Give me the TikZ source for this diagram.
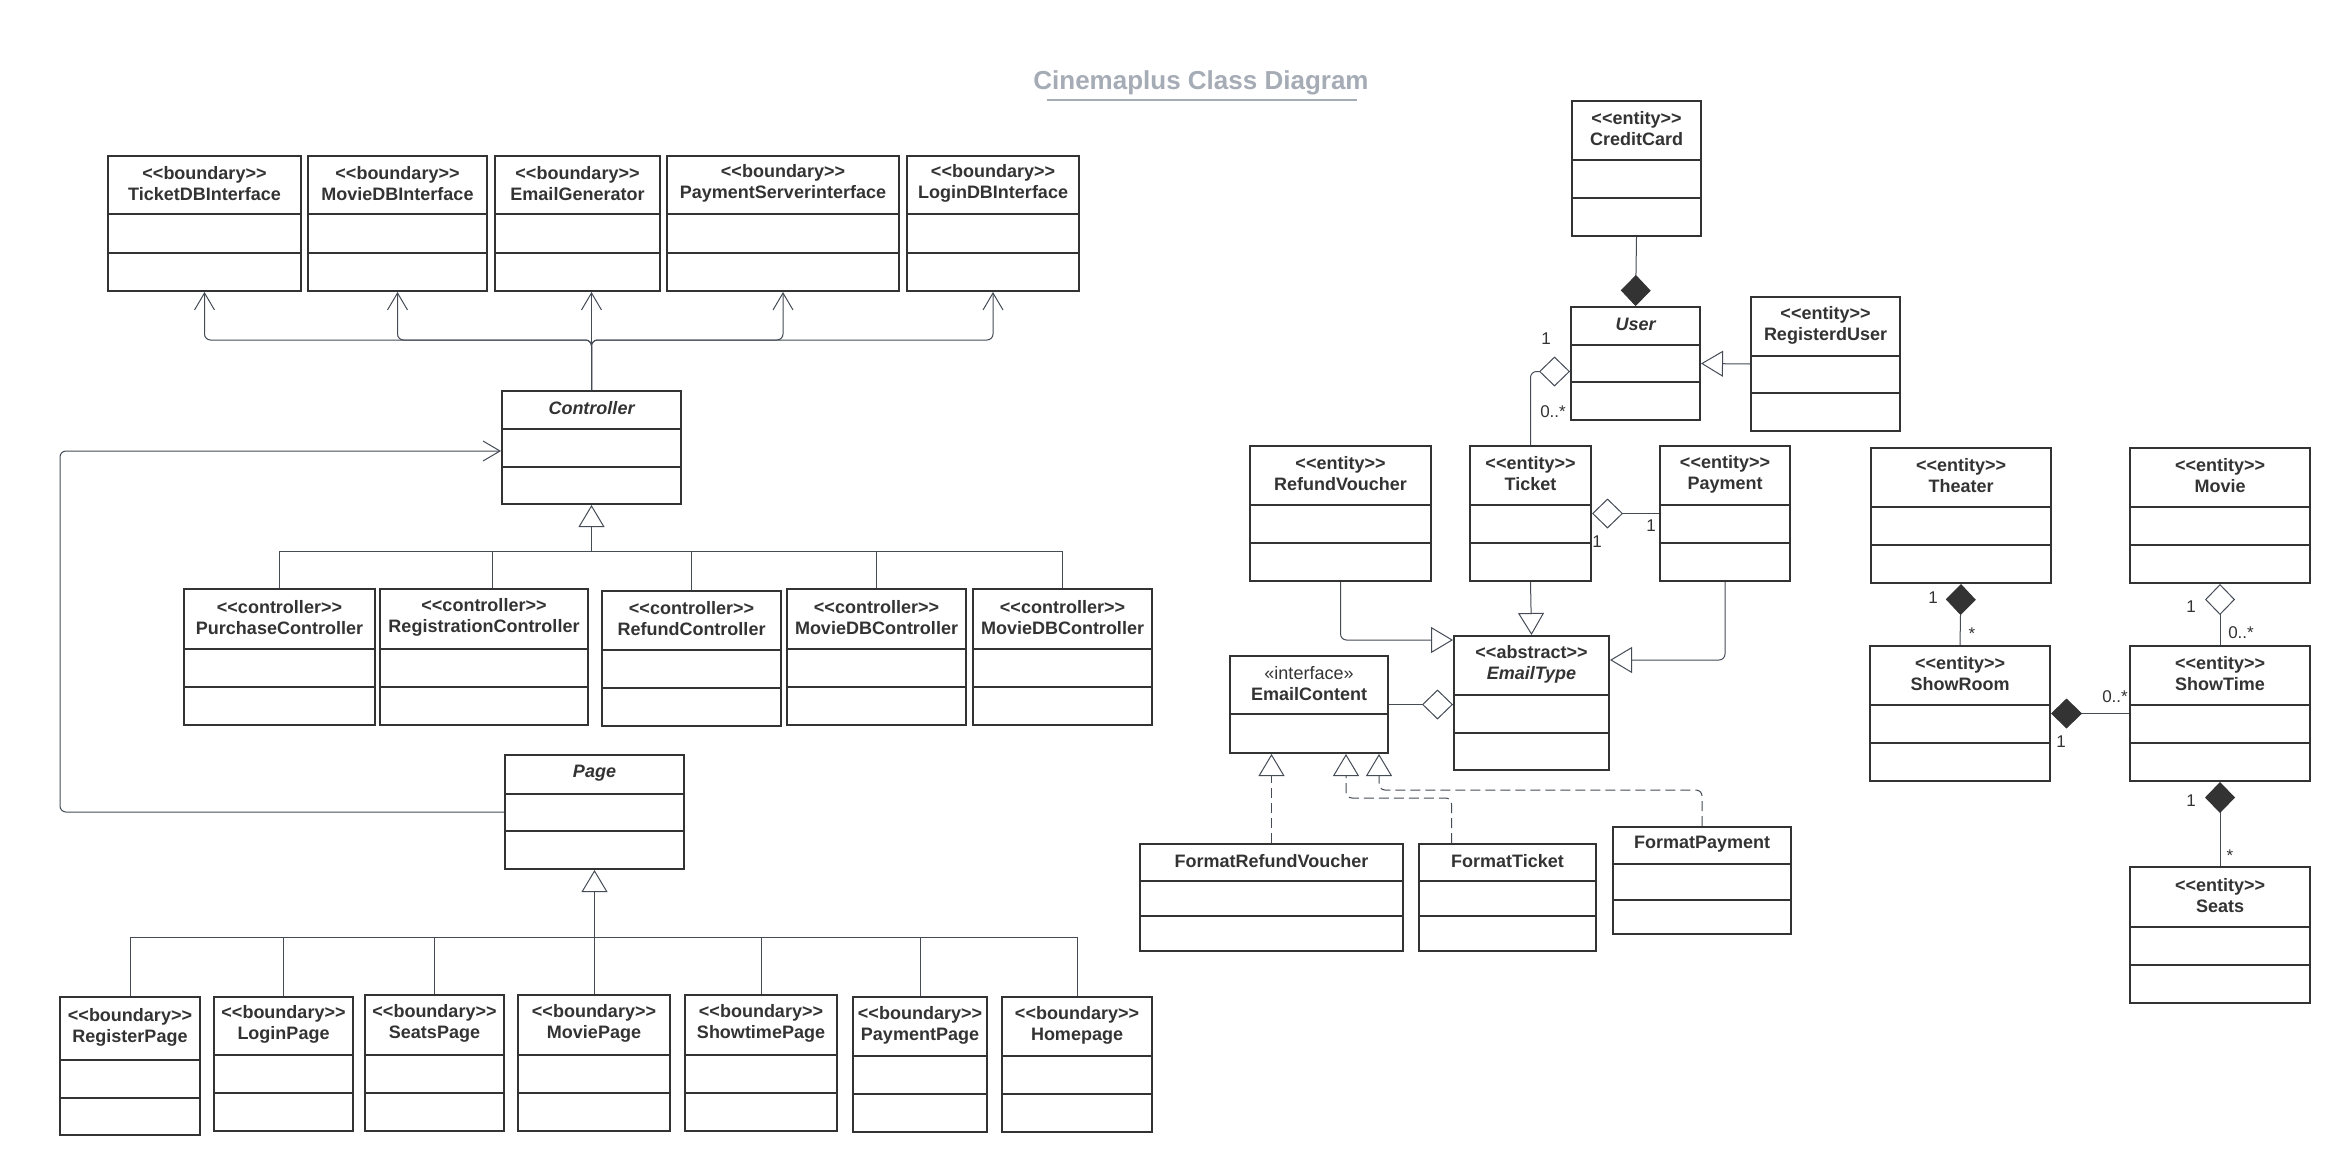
\documentclass[tikz,border=0pt]{standalone}
\usepackage{fontspec}
\setmainfont{Liberation Sans}
\usetikzlibrary{arrows.meta,fit}

\definecolor{boxcol}{HTML}{333333}
\definecolor{txtcol}{HTML}{333333}
\definecolor{linecol}{HTML}{454C56}
\definecolor{titlecol}{HTML}{A6ACB6}

\tikzset{
  classbox/.style={draw=boxcol, line width=2pt, fill=white, inner sep=0pt},
  compsep/.style={draw=boxcol, line width=2pt},
  classtext/.style={font=\fontsize{18}{21}\selectfont\bfseries, text=txtcol, align=center, inner sep=0pt, yshift=1.5pt},
  conn/.style={draw=linecol, line width=1pt},
  assoc/.style={conn, -{Straight Barb[length=17pt,width=20pt]}},
  gen/.style={conn, -{Triangle[open,length=22pt,width=26pt,fill=white]}},
  realize/.style={gen, dash pattern=on 10pt off 5pt},
  comp/.style={conn, -{Diamond[length=31pt,width=30pt,fill=boxcol,color=boxcol]}},
  aggr/.style={conn, -{Diamond[open,length=31pt,width=30pt,fill=white]}},
  mult/.style={font=\fontsize{17}{20}\selectfont, text=txtcol, inner sep=0pt},
}

% class with header + two compartments: name, x1, y1, x2, y2, sep1, sep2, header text
\newcommand{\umlclass}[8]{%
  \node[classbox, fit={(#2,#3) (#4,#5)}] (#1) {};
  \draw[compsep] (#2,#6) -- (#4,#6) (#2,#7) -- (#4,#7);
  \node[classtext] (#1-hd) at ({(#2+#4)/2},{(#3+#6)/2}) {#8};
}
% class with header + one compartment: name, x1, y1, x2, y2, sep, header text
\newcommand{\umlclassone}[7]{%
  \node[classbox, fit={(#2,#3) (#4,#5)}] (#1) {};
  \draw[compsep] (#2,#6) -- (#4,#6);
  \node[classtext] (#1-hd) at ({(#2+#4)/2},{(#3+#6)/2}) {#7};
}
\newcommand{\stereo}[1]{{<}{<}#1{>}{>}}

\begin{document}
\begin{tikzpicture}[x=1pt,y=-1pt]
\useasboundingbox (0,0) rectangle (2352,1175);
\fill[white] (0,0) rectangle (2352,1175);

% title
\node[font=\fontsize{26}{30}\selectfont\bfseries, text=titlecol, inner sep=0pt] (title) at (1201,83) {Cinemaplus Class Diagram};
\draw[titlecol, line width=2pt] (1047,100) -- (1357,100);

% boundary interfaces
\umlclass{tdb}{108}{156}{301}{291}{214}{253}{\stereo{boundary}\\TicketDBInterface}
\umlclass{mdb}{308}{156}{487}{291}{214}{253}{\stereo{boundary}\\MovieDBInterface}
\umlclass{egen}{495}{156}{660}{291}{214}{253}{\stereo{boundary}\\EmailGenerator}
\umlclass{psi}{667}{156}{899}{291}{214}{253}{\stereo{boundary}\\PaymentServerinterface}
\umlclass{ldb}{907}{156}{1079}{291}{214}{253}{\stereo{boundary}\\LoginDBInterface}

% controllers
\umlclass{ctrl}{502}{391}{681}{504}{429}{467}{\itshape Controller}
\umlclass{pc}{184}{589}{375}{725}{649}{687}{\stereo{controller}\\PurchaseController}
\umlclass{rc}{380}{589}{588}{725}{649}{687}{\stereo{controller}\\RegistrationController}
\umlclass{rfc}{602}{591}{781}{726}{650}{688}{\stereo{controller}\\RefundController}
\umlclass{mdca}{787}{589}{966}{725}{649}{687}{\stereo{controller}\\MovieDBController}
\umlclass{mdcb}{973}{589}{1152}{725}{649}{687}{\stereo{controller}\\MovieDBController}

% pages
\umlclass{page}{505}{755}{684}{869}{794}{831}{\itshape Page}
\umlclass{regp}{60}{997}{200}{1135}{1060}{1098}{\stereo{boundary}\\RegisterPage}
\umlclass{logp}{214}{997}{353}{1131}{1055}{1093}{\stereo{boundary}\\LoginPage}
\umlclass{seatp}{365}{995}{504}{1131}{1055}{1093}{\stereo{boundary}\\SeatsPage}
\umlclass{moviep}{518}{995}{670}{1131}{1055}{1093}{\stereo{boundary}\\MoviePage}
\umlclass{showp}{685}{995}{837}{1131}{1055}{1093}{\stereo{boundary}\\ShowtimePage}
\umlclass{payp}{853}{997}{987}{1132}{1056}{1094}{\stereo{boundary}\\PaymentPage}
\umlclass{homep}{1002}{997}{1152}{1132}{1056}{1094}{\stereo{boundary}\\Homepage}

% entities
\umlclass{cc}{1572}{101}{1701}{236}{160}{198}{\stereo{entity}\\CreditCard}
\umlclass{user}{1571}{307}{1700}{420}{345}{382}{\itshape User}
\umlclass{reguser}{1751}{297}{1900}{431}{356}{393}{\stereo{entity}\\RegisterdUser}
\umlclass{rv}{1250}{446}{1431}{581}{505}{543}{\stereo{entity}\\RefundVoucher}
\umlclass{ticket}{1470}{446}{1591}{581}{505}{543}{\stereo{entity}\\Ticket}
\umlclass{payment}{1660}{446}{1790}{581}{505}{543}{\stereo{entity}\\Payment}
\umlclass{theater}{1871}{448}{2051}{583}{507}{545}{\stereo{entity}\\Theater}
\umlclass{movie}{2130}{448}{2310}{583}{507}{545}{\stereo{entity}\\Movie}
\umlclass{showroom}{1870}{646}{2050}{781}{705}{743}{\stereo{entity}\\ShowRoom}
\umlclass{showtime}{2130}{646}{2310}{781}{705}{743}{\stereo{entity}\\ShowTime}
\umlclass{seats}{2130}{867}{2310}{1003}{927}{965}{\stereo{entity}\\Seats}

% e-mail classes
\umlclass{etype}{1454}{636}{1609}{770}{695}{733}{\stereo{abstract}\\\itshape EmailType}
\umlclassone{econt}{1230}{656}{1388}{753}{714}{\mdseries «interface»\\EmailContent}
\umlclass{frv}{1140}{844}{1403}{951}{881}{916}{FormatRefundVoucher}
\umlclass{ft}{1419}{844}{1596}{951}{881}{916}{FormatTicket}
\umlclass{fp}{1613}{827}{1791}{934}{864}{900}{FormatPayment}

% controller uses the boundary interfaces
\coordinate (hub) at (ctrl.north |- 0,340);
\draw[assoc] (ctrl.north) -- (ctrl.north |- egen.south);
\draw[assoc, rounded corners=6pt] (ctrl.north) -- (hub) -| (tdb.south);
\draw[assoc, rounded corners=6pt] (ctrl.north) -- (hub) -| (mdb.south);
\draw[assoc, rounded corners=6pt] (ctrl.north) -- (hub) -| (psi.south);
\draw[assoc, rounded corners=6pt] (ctrl.north) -- (hub) -| (ldb.south);

% controller specialisations
\coordinate (cbus) at (ctrl.south |- 0,551);
\draw[gen] (cbus) -- (ctrl.south);
\draw[conn] (pc.north) |- (cbus);
\draw[conn] ([xshift=8pt]rc.north) |- (cbus);
\draw[conn] (rfc.north) |- (cbus);
\draw[conn] (mdca.north) |- (cbus);
\draw[conn] (mdcb.north) |- (cbus);

% page specialisations
\coordinate (pbus) at (page.south |- 0,937);
\draw[gen] (pbus) -- (page.south);
\foreach \p in {regp,logp,seatp,moviep,showp,payp,homep}
  \draw[conn] (\p.north) |- (pbus);

% page talks to controller
\coordinate (loop) at (60,451);
\draw[assoc, rounded corners=6pt] (page.west) -| (loop) -- (ctrl.west |- loop);

% user side
\draw[comp] (cc.south) -- (user.north);
\draw[gen] (reguser.west) -- (user.east);
\draw[aggr, rounded corners=6pt] (ticket.north) |- ([yshift=-8pt]user.west);
\node[mult] (m1) at (1546,339) {1};
\node[mult] (m2) at (1553,412) {0..*};
\draw[aggr] (payment.west) -- (ticket.east);
\node[mult] (m3) at (1597,542) {1};
\node[mult] (m4) at (1651,526) {1};

% e-mail types
\draw[gen, rounded corners=6pt] (rv.south) |- ([yshift=-5pt]etype.north west);
\draw[gen] (ticket.south) -- (etype.north);
\draw[gen, rounded corners=6pt] (payment.south) |- ([yshift=-25pt]etype.north east);
\draw[aggr] (econt.east) -- (etype.west |- econt.east);

% realisations of EmailContent
\draw[realize] (frv.north) -- (frv.north |- econt.south);
\coordinate (ftbend) at (1346,798);
\draw[realize, rounded corners=6pt] ([xshift=-56pt]ft.north) |- (ftbend) -- (ftbend |- econt.south);
\coordinate (fpbend) at (1379,790);
\draw[realize, rounded corners=6pt] (fp.north) |- (fpbend) -- (fpbend |- econt.south);

% theater / movie side
\draw[comp] (showroom.north) -- (theater.south);
\node[mult] (m5) at (1933,598) {1};
\node[mult] (m6) at (1972,634) {*};
\draw[aggr] (showtime.north) -- (movie.south);
\node[mult] (m7) at (2191,607) {1};
\node[mult] (m8) at (2241,633) {0..*};
\draw[comp] (showtime.west) -- (showroom.east);
\node[mult] (m9) at (2115,697) {0..*};
\node[mult] (m10) at (2061,742) {1};
\draw[comp] (seats.north) -- (showtime.south);
\node[mult] (m11) at (2191,801) {1};
\node[mult] (m12) at (2230,856) {*};
\end{tikzpicture}
\end{document}
